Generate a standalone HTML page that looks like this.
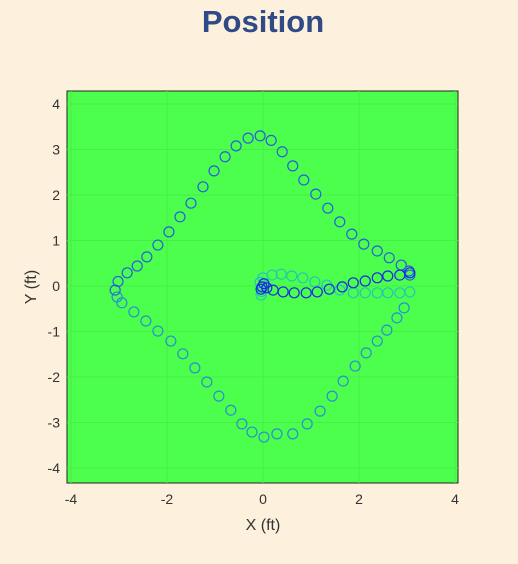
<!DOCTYPE html>
<html><head><meta charset="utf-8"><style>
body{margin:0;background:#fdf0dc;width:518px;height:559px;overflow:hidden;font-family:"Liberation Sans",sans-serif}
</style></head><body>
<svg width="518" height="559">
<text x="263" y="32" text-anchor="middle" font-size="31" font-weight="bold" fill="#2f4a86" font-family="Liberation Sans, sans-serif">Position</text>
<rect x="67" y="91" width="391" height="392" fill="#4dff4d" stroke="#222" stroke-width="1"/>
<g id="grid"></g>
<g id="ticks"></g>
<g id="marks"></g>
<text x="263" y="530" text-anchor="middle" font-size="16" fill="#333">X (ft)</text>
<text transform="translate(36,287) rotate(-90)" text-anchor="middle" font-size="16" fill="#333">Y (ft)</text>
</svg>
<script>
const xTicks=[-4,-2,0,2,4];
const yTicks=[-4,-3,-2,-1,0,1,2,3,4];
const upperX=[-3.08,-3.02,-2.83,-2.62,-2.42,-2.19,-1.96,-1.73,-1.5,-1.25,-1.02,-0.79,-0.56,-0.31,-0.06,0.17,0.4,0.62,0.85,1.1,1.35,1.6,1.85,2.1,2.38,2.63,2.88,3.04,3.06];
const upperY=[-0.09,0.1,0.29,0.44,0.64,0.9,1.19,1.52,1.82,2.18,2.53,2.84,3.08,3.25,3.3,3.2,2.95,2.64,2.33,2.02,1.71,1.41,1.14,0.92,0.77,0.62,0.46,0.33,0.24];
const returnX=[3.06,2.85,2.6,2.38,2.13,1.88,1.65,1.38,1.13,0.9,0.65,0.42,0.21,0.08,-0.02,0.02,-0.04];
const returnY=[0.29,0.24,0.22,0.18,0.11,0.07,-0.02,-0.07,-0.13,-0.15,-0.15,-0.13,-0.09,-0.04,-0.02,0.05,-0.07];
const cyanX=[-0.04,0.0,0.19,0.38,0.6,0.83,1.08,1.33,1.6,1.88,2.13,2.38,2.6,2.85,3.06,-0.06,-0.03];
const cyanY=[-0.2,0.18,0.24,0.26,0.22,0.18,0.09,0.02,-0.09,-0.15,-0.15,-0.15,-0.15,-0.15,-0.13,0.08,-0.12];
const lowerX=[2.94,2.79,2.58,2.38,2.15,1.92,1.67,1.44,1.19,0.92,0.62,0.29,0.02,-0.23,-0.44,-0.67,-0.92,-1.17,-1.42,-1.67,-1.92,-2.19,-2.44,-2.69,-2.94,-3.04];
const lowerY=[-0.48,-0.7,-0.97,-1.21,-1.47,-1.76,-2.09,-2.42,-2.75,-3.03,-3.25,-3.25,-3.32,-3.21,-3.03,-2.73,-2.42,-2.11,-1.8,-1.49,-1.21,-0.99,-0.77,-0.57,-0.37,-0.24];
const NS="http://www.w3.org/2000/svg";
function sx(v){return 263+v*48;}
function sy(v){return 286-v*45.5;}
const grid=document.getElementById('grid'),ticks=document.getElementById('ticks'),marks=document.getElementById('marks');
xTicks.forEach(t=>{
 const l=document.createElementNS(NS,'line');
 
 
 l.setAttribute('x1',sx(t));l.setAttribute('x2',sx(t));l.setAttribute('y1',91);l.setAttribute('y2',483);
 l.setAttribute('stroke','#47ee47');l.setAttribute('stroke-width','1');grid.appendChild(l);
 const tx=document.createElementNS(NS,'text');
 
 
 tx.setAttribute('x',sx(t));tx.setAttribute('y',504);tx.setAttribute('text-anchor','middle');
 tx.setAttribute('font-size','14');tx.setAttribute('fill','#333');tx.textContent=t;ticks.appendChild(tx);
});
yTicks.forEach(t=>{
 const l=document.createElementNS(NS,'line');
 
 
 l.setAttribute('y1',sy(t));l.setAttribute('y2',sy(t));l.setAttribute('x1',67);l.setAttribute('x2',458);
 l.setAttribute('stroke','#47ee47');l.setAttribute('stroke-width','1');grid.appendChild(l);
 const tx=document.createElementNS(NS,'text');
 
 
 tx.setAttribute('x',60);tx.setAttribute('y',sy(t)+5);tx.setAttribute('text-anchor','end');
 tx.setAttribute('font-size','14');tx.setAttribute('fill','#333');tx.textContent=t;ticks.appendChild(tx);
});
function series(xs,ys,col,name){
 xs.forEach((x,i)=>{
  const c=document.createElementNS(NS,'circle');
  
  
  c.setAttribute('cx',sx(x));c.setAttribute('cy',sy(ys[i]));c.setAttribute('r',5);
  c.setAttribute('fill','none');c.setAttribute('stroke',col);c.setAttribute('stroke-width','1.2');
  marks.appendChild(c);
 });
}
series(lowerX,lowerY,'#2a8ed0','lower-path-point');
series(cyanX,cyanY,'#22c8b4','cyan-path-point');
series(upperX,upperY,'#2a5edc','upper-path-point');
series(returnX,returnY,'#1a2ae4','return-path-point');
</script>
</body></html>
